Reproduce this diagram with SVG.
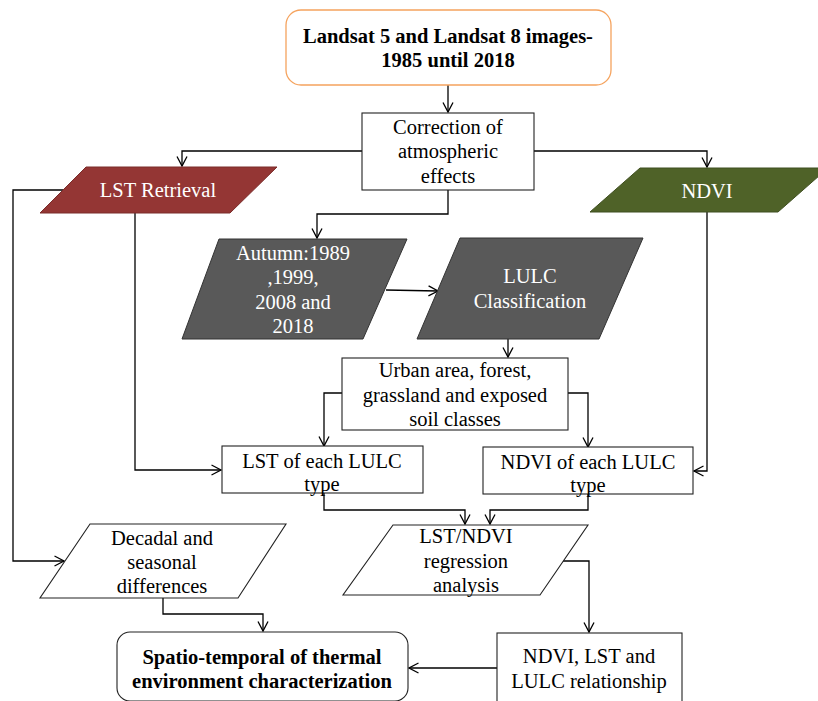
<svg xmlns="http://www.w3.org/2000/svg" width="818" height="701" viewBox="0 0 818 701">
<style>
  text { font-family: "Liberation Serif", "Times New Roman", serif; font-size: 20.5px; text-anchor: middle; fill: #000; }
  .b { font-weight: bold; }
  .w { fill: #fff; }
  .box { fill: #fff; stroke: #222; stroke-width: 1.1; }
  .conn path { fill: none; stroke: #000; stroke-width: 1.3; marker-end: url(#arr); }
  .conn path.na { marker-end: none; }
</style>
<defs>
  <marker id="arr" markerUnits="userSpaceOnUse" markerWidth="12" markerHeight="12" viewBox="0 0 12 12" refX="10.5" refY="6" orient="auto">
    <path d="M1,1 L10.5,6 L1,11" fill="none" stroke="#000" stroke-width="1.3"/>
  </marker>
</defs>
<rect width="818" height="701" fill="#fff"/>

<g class="conn" id="connectors">
  <path d="M448,85 L448,112"/>
  <path d="M362,151 L182,151 L182,166"/>
  <path d="M534,151 L707,151 L707,167"/>
  <path d="M448,190 L448,214 L317,214 L317,238"/>
  <path d="M386,290 L438,291"/>
  <path d="M508,339 L508,357"/>
  <path d="M342,393 L324,393 L324,446"/>
  <path d="M568,393 L588,393 L588,447"/>
  <path d="M135,213 L135,470 L221,470"/>
  <path d="M707,212 L707,471 L694,471"/>
  <path d="M63,190 L13,190 L13,561 L64,561"/>
  <path d="M324,493 L324,510 L465,510 L465,524"/>
  <path d="M588,494 L588,510 L490,510 L490,524"/>
  <path d="M563,561 L589,561 L589,632"/>
  <path d="M497,668 L409,668"/>
  <path d="M163,598 L163,614 L263,614 L263,631"/>
</g>

<g id="landsat">
  <rect x="286" y="10" width="325" height="75" rx="15" ry="15" fill="#fff" stroke="#F5A35E" stroke-width="1.3"/>
  <text class="b" x="448" y="43">Landsat 5 and Landsat 8 images-</text>
  <text class="b" x="448" y="67">1985 until 2018</text>
</g>

<g id="correction">
  <rect class="box" x="362" y="113" width="172" height="77"/>
  <text x="448" y="134">Correction of</text>
  <text x="448" y="158">atmospheric</text>
  <text x="448" y="183">effects</text>
</g>

<g id="lst-retrieval">
  <polygon points="86,167 277,167 230,213 40,213" fill="#943634" stroke="#7a2c2a" stroke-width="1"/>
  <text class="w" x="158" y="197">LST Retrieval</text>
</g>

<g id="ndvi">
  <polygon points="640,168 828,168 778,212 590,212" fill="#4F6228" stroke="#3f4f20" stroke-width="1"/>
  <text class="w" x="707" y="198">NDVI</text>
</g>

<g id="autumn">
  <polygon points="219,239 407,239 363,339 182,339" fill="#595959" stroke="#333" stroke-width="1"/>
  <text class="w" x="293" y="260">Autumn:1989</text>
  <text class="w" x="293" y="284">,1999,</text>
  <text class="w" x="293" y="309">2008 and</text>
  <text class="w" x="293" y="333">2018</text>
</g>

<g id="lulc">
  <polygon points="460,238 643,238 599,339 417,339" fill="#595959" stroke="#333" stroke-width="1"/>
  <text class="w" x="530" y="283">LULC</text>
  <text class="w" x="530" y="308">Classification</text>
</g>

<g id="classes">
  <rect class="box" x="342" y="358" width="226" height="72"/>
  <text x="455" y="377">Urban area, forest,</text>
  <text x="455" y="402">grassland and exposed</text>
  <text x="455" y="426">soil classes</text>
</g>

<g id="lst-each">
  <rect class="box" x="222" y="446" width="201" height="47"/>
  <text x="322" y="468">LST of each LULC</text>
  <text x="322" y="491">type</text>
</g>

<g id="ndvi-each">
  <rect class="box" x="483" y="447" width="210" height="47"/>
  <text x="588" y="469">NDVI of each LULC</text>
  <text x="588" y="492">type</text>
</g>

<g id="decadal">
  <polygon points="90,524 286,524 238,598 40,598" fill="#fff" stroke="#222" stroke-width="1.1"/>
  <text x="162" y="545">Decadal and</text>
  <text x="162" y="569">seasonal</text>
  <text x="162" y="593">differences</text>
</g>

<g id="regression">
  <polygon points="393,525 588,525 540,595 343,595" fill="#fff" stroke="#222" stroke-width="1.1"/>
  <text x="466" y="543">LST/NDVI</text>
  <text x="466" y="568">regression</text>
  <text x="466" y="592">analysis</text>
</g>

<g id="relationship">
  <rect class="box" x="497" y="633" width="185" height="75"/>
  <text x="589" y="663">NDVI, LST and</text>
  <text x="589" y="688">LULC relationship</text>
</g>

<g id="spatio">
  <rect x="117" y="632" width="291" height="69" rx="13" ry="13" fill="#fff" stroke="#222" stroke-width="1.1"/>
  <text class="b" x="262" y="664">Spatio-temporal of thermal</text>
  <text class="b" x="262" y="688">environment characterization</text>
</g>
</svg>
